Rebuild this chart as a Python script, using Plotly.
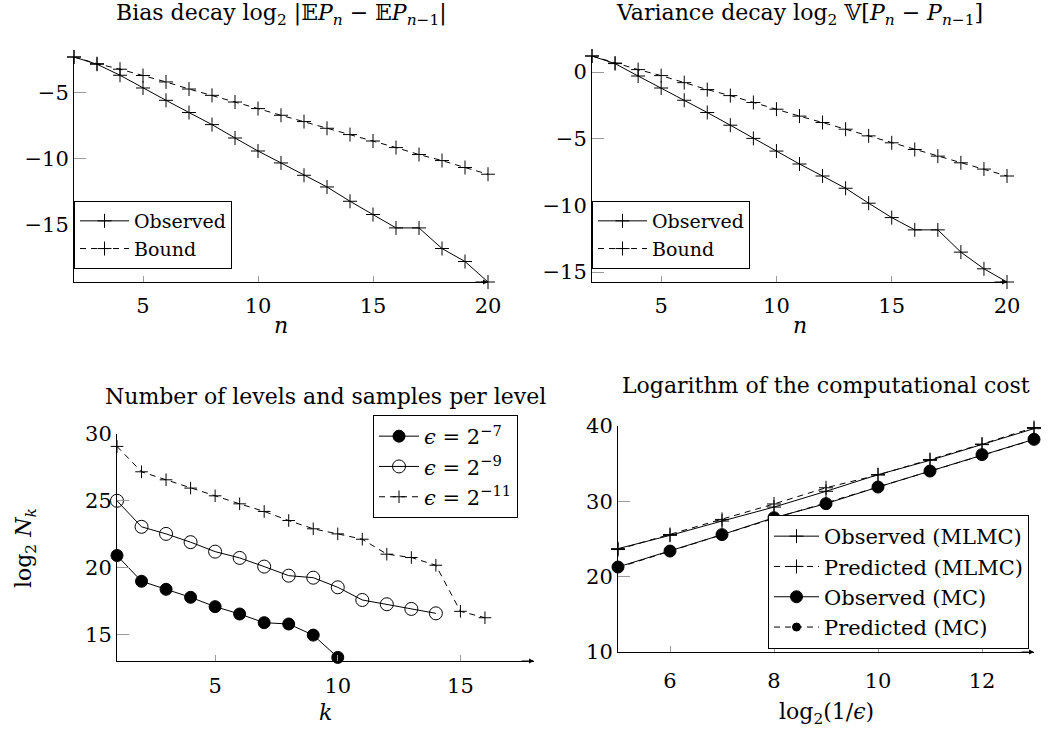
import plotly.graph_objects as go

# ---------------- data ----------------
n_vals = list(range(2, 21))
bias_observed = [-2.26, -2.81, -3.65, -4.62, -5.56, -6.49, -7.41, -8.43, -9.42, -10.33,
                 -11.27, -12.16, -13.25, -14.26, -15.28, -15.28, -16.85, -17.84, -19.4]
bias_bound = [-2.26, -2.77, -3.19, -3.67, -4.16, -4.70, -5.18, -5.69, -6.19, -6.70,
              -7.18, -7.69, -8.17, -8.66, -9.16, -9.69, -10.15, -10.68, -11.19]

var_observed = [1.2, 0.63, -0.30, -1.20, -2.12, -3.04, -3.99, -4.98, -5.93, -6.90,
                -7.80, -8.72, -9.84, -10.92, -11.84, -11.84, -13.51, -14.76, -15.75]
var_bound = [1.2, 0.67, 0.18, -0.27, -0.80, -1.32, -1.77, -2.29, -2.79, -3.31,
             -3.79, -4.29, -4.79, -5.31, -5.81, -6.31, -6.81, -7.28, -7.80]

k_eps7 = list(range(1, 11))
nk_eps7 = [20.9, 18.97, 18.37, 17.77, 17.07, 16.52, 15.87, 15.77, 14.94, 13.27]
k_eps9 = list(range(1, 15))
nk_eps9 = [25.0, 23.05, 22.52, 21.9, 21.19, 20.72, 20.07, 19.39, 19.24, 18.52,
           17.57, 17.25, 16.9, 16.57]
k_eps11 = list(range(1, 17))
nk_eps11 = [29.07, 27.17, 26.57, 25.95, 25.37, 24.77, 24.2, 23.52, 22.9, 22.52,
            22.12, 21.0, 20.75, 20.17, 16.72, 16.24]

log_inv_eps = list(range(5, 14))
cost_mlmc_obs = [23.72, 25.48, 27.38, 29.24, 31.33, 33.54, 35.44, 37.53, 39.65]
cost_mlmc_pred = [23.6, 25.6, 27.6, 29.65, 31.8, 33.5, 35.55, 37.6, 39.8]
cost_mc_obs = [21.28, 23.4, 25.58, 27.83, 29.69, 31.9, 34.02, 36.2, 38.23]
cost_mc_pred = [21.2, 23.4, 25.6, 27.75, 29.8, 31.9, 34.0, 36.1, 38.2]

# ---------------- style ----------------
FONT = "DejaVu Serif"
W, H = 1051, 740
DASH = "6px,5px"

def px_dom(a, b, total):
    return [a / total, b / total]

def py_dom(top, bottom):
    return [1 - bottom / H, 1 - top / H]

fig = go.Figure()

def add(x, y, name, xa, ya, legend, dash="solid", symbol="cross-thin", msize=10,
        mfill="black"):
    fig.add_trace(go.Scatter(
        x=x, y=y, name=name, mode="lines+markers",
        xaxis=xa, yaxis=ya, legend=legend, cliponaxis=False,
        line=dict(color="black", width=1, dash=dash),
        marker=dict(symbol=symbol, size=msize, color=mfill,
                    line=dict(color="black", width=1)),
    ))

# top-left
add(n_vals, bias_observed, "Observed", "x", "y", "legend")
add(n_vals, bias_bound, "Bound", "x", "y", "legend", dash=DASH)
# top-right
add(n_vals, var_observed, "Observed", "x2", "y2", "legend2")
add(n_vals, var_bound, "Bound", "x2", "y2", "legend2", dash=DASH)
# bottom-left
add(k_eps7, nk_eps7, "<i>ϵ</i> = 2<sup>−7</sup>", "x3", "y3", "legend3",
    symbol="circle", msize=12)
add(k_eps9, nk_eps9, "<i>ϵ</i> = 2<sup>−9</sup>", "x3", "y3", "legend3",
    symbol="circle-open", msize=13)
add(k_eps11, nk_eps11, "<i>ϵ</i> = 2<sup>−11</sup>", "x3", "y3", "legend3",
    dash=DASH, msize=9)
# bottom-right
add(log_inv_eps, cost_mlmc_obs, "Observed (MLMC)", "x4", "y4", "legend4")
add(log_inv_eps, cost_mlmc_pred, "Predicted (MLMC)", "x4", "y4", "legend4", dash=DASH)
add(log_inv_eps, cost_mc_obs, "Observed (MC)", "x4", "y4", "legend4",
    symbol="circle", msize=12)
add(log_inv_eps, cost_mc_pred, "Predicted (MC)", "x4", "y4", "legend4",
    dash=DASH, symbol="circle", msize=8)

# domains (pixel-derived)
dom = {
    1: (px_dom(74, 488, W), py_dom(57, 282)),
    2: (px_dom(592, 1007, W), py_dom(56, 282)),
    3: (px_dom(117, 534, W), py_dom(434, 661)),
    4: (px_dom(618, 1034, W), py_dom(426, 652)),
}

def axis_common(**kw):
    d = dict(showline=True, linecolor="black", linewidth=1, showgrid=False,
             zeroline=False, ticks="inside", tickcolor="#9a9a9a", ticklen=6,
             tickwidth=1, tickfont=dict(family=FONT, size=21, color="black"),
             mirror=False, automargin=False)
    d.update(kw)
    return d

layout = dict(
    width=W, height=H, margin=dict(l=0, r=0, t=0, b=0, pad=0, autoexpand=False),
    paper_bgcolor="white", plot_bgcolor="white",
    font=dict(family=FONT, color="black"),
    showlegend=True,
)

x_ranges = {1: [2, 20], 2: [2, 20], 3: [1, 18], 4: [5, 13]}
y_ranges = {1: [-19.4, -2.26], 2: [-15.75, 1.2], 3: [13, 30], 4: [10, 40]}
x_ticks = {1: [5, 10, 15, 20], 2: [5, 10, 15, 20], 3: [5, 10, 15], 4: [6, 8, 10, 12]}
y_ticks = {1: [-15, -10, -5], 2: [-15, -10, -5, 0], 3: [15, 20, 25, 30], 4: [10, 20, 30, 40]}
x_standoff = {1: 5, 2: 5, 3: 6, 4: 10}
x_titles = {1: ("<i>n</i>", 325), 2: ("<i>n</i>", 325), 3: ("<i>k</i>", 712),
            4: ("log<sub>2</sub>(1/<i>ϵ</i>)", 713)}

for i in range(1, 5):
    xs = "" if i == 1 else str(i)
    xd, yd = dom[i]
    layout["xaxis" + xs] = axis_common(
        domain=xd, range=x_ranges[i], tickvals=x_ticks[i], anchor="y" + xs,
        ticklabelstandoff=x_standoff[i],
    )
    layout["yaxis" + xs] = axis_common(
        domain=yd, range=y_ranges[i], tickvals=y_ticks[i], anchor="x" + xs,
        ticklen=12,
    )

leg_common = dict(bgcolor="white", bordercolor="black", borderwidth=1,
                  font=dict(family=FONT, size=19, color="black"),
                  xanchor="left", yanchor="top", tracegroupgap=0)
layout["legend"] = dict(leg_common, x=74 / W, y=1 - 201 / H, itemwidth=49)
layout["legend2"] = dict(leg_common, x=592 / W, y=1 - 201 / H, itemwidth=49)
layout["legend3"] = dict(leg_common, x=373 / W, y=1 - 415 / H, itemwidth=40,
                         font=dict(family=FONT, size=21, color="black"))
layout["legend4"] = dict(leg_common, x=768 / W, y=1 - 515 / H, itemwidth=45,
                         font=dict(family=FONT, size=21, color="black"))

fig.update_layout(**layout)

# titles
titles = [
    ("Bias decay log<sub>2</sub> |𝔼<i>P<sub>n</sub></i> − 𝔼<i>P</i><sub><i>n</i>−1</sub>|", 1, 14),
    ("Variance decay log<sub>2</sub> 𝕍[<i>P<sub>n</sub></i> − <i>P</i><sub><i>n</i>−1</sub>]", 2, 14),
    ("Number of levels and samples per level", 3, 396),
    ("Logarithm of the computational cost", 4, 385),
]
for text, i, yc in titles:
    xd, _ = dom[i]
    fig.add_annotation(text=text, x=(xd[0] + xd[1]) / 2, y=1 - yc / H,
                       xref="paper", yref="paper", showarrow=False,
                       xanchor="center", yanchor="middle",
                       font=dict(family=FONT, size=22, color="black"))

# axis titles
for i, (text, yc) in x_titles.items():
    xd, _ = dom[i]
    fig.add_annotation(text=text, x=(xd[0] + xd[1]) / 2, y=1 - yc / H,
                       xref="paper", yref="paper", showarrow=False,
                       xanchor="center", yanchor="middle",
                       font=dict(family=FONT, size=22, color="black"))
fig.add_annotation(text="log<sub>2</sub> <i>N<sub>k</sub></i>", x=25 / W, y=1 - 548 / H,
                   xref="paper", yref="paper", showarrow=False, textangle=-90,
                   xanchor="center", yanchor="middle",
                   font=dict(family=FONT, size=22, color="black"))

# arrow heads at the end of each x axis
for i in range(1, 5):
    xs = "" if i == 1 else str(i)
    fig.add_annotation(x=1, y=0, xref="x" + xs + " domain", yref="y" + xs + " domain",
                       ax=-14, ay=0, axref="pixel", ayref="pixel", text="",
                       showarrow=True, arrowhead=2, arrowsize=1, arrowwidth=1,
                       arrowcolor="black")

fig.write_html("out.html", config={"responsive": False})
